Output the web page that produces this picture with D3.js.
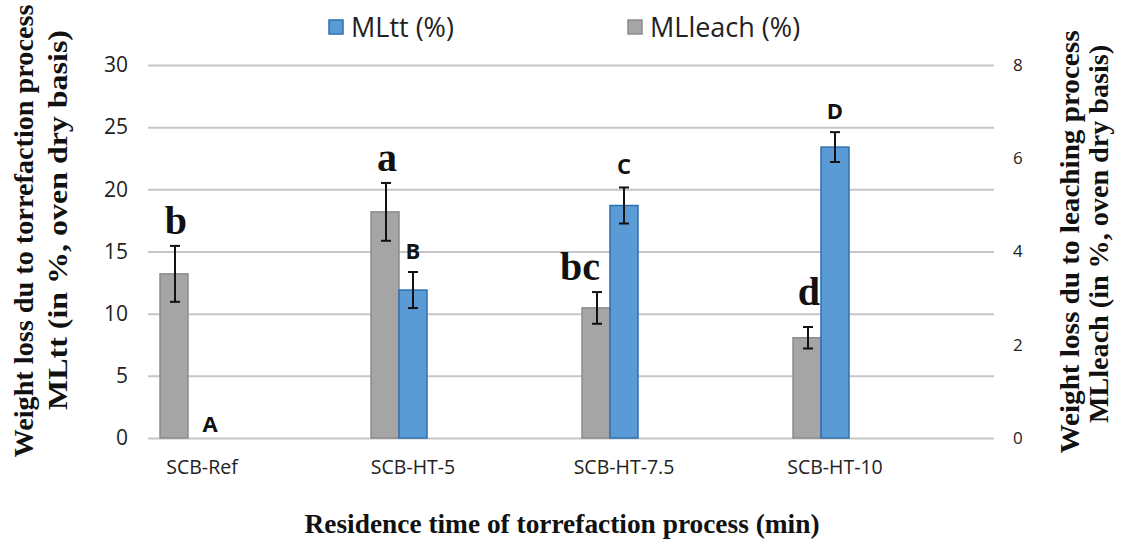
<!DOCTYPE html>
<html>
<head>
<meta charset="utf-8">
<script src="https://cdn.jsdelivr.net/npm/d3@7"></script>
<style>
  html, body { margin: 0; padding: 0; background: #fff; }
  svg { display: block; }
</style>
</head>
<body>
<svg id="chart" width="1125" height="551"></svg>
<script>
// ---- data ----
const categories = ["SCB-Ref", "SCB-HT-5", "SCB-HT-7.5", "SCB-HT-10"];
const seriesNames = ["MLleach (%)", "MLtt (%)"];
const mlLeach = [3.52, 4.85, 2.79, 2.15];      // right axis
const mlLeachErr = [0.60, 0.62, 0.34, 0.23];
const mlTt = [0, 11.9, 18.7, 23.4];            // left axis
const mlTtErr = [0, 1.45, 1.45, 1.2];
const leachLetters = ["b", "a", "bc", "d"];
const ttLetters = ["A", "B", "C", "D"];
const leftTicks = [0, 5, 10, 15, 20, 25, 30];
const rightTicks = [0, 2, 4, 6, 8];

const svg = d3.select("#chart");
const plot = { left: 148, right: 994, top: 65, bottom: 438 };

const yL = d3.scaleLinear().domain([0, 30]).range([plot.bottom, plot.top]);
const yR = d3.scaleLinear().domain([0, 8]).range([plot.bottom, plot.top]);
const x0 = d3.scaleBand().domain(categories).range([96.5, 940.5])
  .paddingInner(0.602).paddingOuter(0.301);
const xs = d3.scaleBand().domain(["leach", "tt", "empty"]).range([0, x0.bandwidth()]);

const tickFont = "'Open Sans', 'Liberation Sans', sans-serif";
const serif = "'Liberation Serif', 'DejaVu Serif', serif";

// gridlines via left axis
const gridAxis = d3.axisLeft(yL).tickValues(leftTicks)
  .tickSize(-(plot.right - plot.left)).tickFormat(d => d).tickPadding(20);
const gL = svg.append("g").attr("transform", `translate(${plot.left},0)`).call(gridAxis);
gL.select(".domain").remove();
gL.selectAll(".tick line").attr("stroke", "#c6c6c6").attr("stroke-width", 2);
gL.selectAll(".tick text").attr("font-family", tickFont).attr("font-size", 21).attr("fill", "#222");

// right axis labels
const rAxis = d3.axisRight(yR).tickValues(rightTicks).tickSize(0).tickPadding(19).tickFormat(d => d);
const gR = svg.append("g").attr("transform", `translate(${plot.right},0)`).call(rAxis);
gR.select(".domain").remove();
gR.selectAll(".tick text").attr("font-family", tickFont).attr("font-size", 17).attr("fill", "#222");

// category labels
const xAxis = d3.axisBottom(x0).tickSize(0).tickPadding(0);
const gX = svg.append("g").attr("transform", `translate(0,${plot.bottom + 22})`).call(xAxis);
gX.select(".domain").remove();
gX.selectAll(".tick text").attr("font-family", tickFont).attr("font-size", 19.5).attr("fill", "#222");

// bars
const rows = categories.map((c, i) => ({
  cat: c, leach: mlLeach[i], leachErr: mlLeachErr[i], tt: mlTt[i], ttErr: mlTtErr[i],
  lL: leachLetters[i], lT: ttLetters[i]
}));

const groups = svg.append("g").selectAll("g").data(rows).join("g")
  .attr("transform", d => `translate(${x0(d.cat)},0)`);

groups.append("rect")
  .attr("x", xs("leach")).attr("width", xs.bandwidth())
  .attr("y", d => yR(d.leach)).attr("height", d => yR(0) - yR(d.leach))
  .attr("fill", "#a5a5a5").attr("stroke", "#8c8c8c").attr("stroke-width", 1.5);

groups.filter(d => d.tt > 0).append("rect")
  .attr("x", xs("tt")).attr("width", xs.bandwidth())
  .attr("y", d => yL(d.tt)).attr("height", d => yL(0) - yL(d.tt))
  .attr("fill", "#5b9bd5").attr("stroke", "#2e6fae").attr("stroke-width", 1.5);

// error bars
function errBar(sel, cx, yTop, yBot) {
  sel.append("line").attr("x1", cx).attr("x2", cx).attr("y1", yTop).attr("y2", yBot)
    .attr("stroke", "#111").attr("stroke-width", 2);
  [yTop, yBot].forEach(yy => sel.append("line").attr("x1", cx - 5).attr("x2", cx + 5)
    .attr("y1", yy).attr("y2", yy).attr("stroke", "#111").attr("stroke-width", 2));
}
groups.each(function(d) {
  const g = d3.select(this);
  const cL = xs("leach") + xs.bandwidth() / 2;
  const cT = xs("tt") + xs.bandwidth() / 2;
  errBar(g, cL + 1, yR(d.leach + d.leachErr), yR(d.leach - d.leachErr));
  if (d.ttErr > 0) errBar(g, cT, yL(d.tt + d.ttErr), yL(d.tt - d.ttErr));
  // letters
  const lx = d.lL.length > 1 ? cL - 16 : cL + 2;
  const gapL = d.lL === "d" ? 22 : 12;
  g.append("text").attr("x", lx).attr("y", yR(d.leach + d.leachErr) - gapL)
    .attr("text-anchor", "middle").attr("font-family", serif).attr("font-weight", "bold")
    .attr("font-size", 40).attr("fill", "#111").text(d.lL);
  const gapT = d.ttErr > 0 ? 13 : 6;
  g.append("text").attr("x", d.ttErr > 0 ? cT : cT + 8).attr("y", yL(d.tt + d.ttErr) - gapT)
    .attr("text-anchor", "middle").attr("font-family", tickFont).attr("font-weight", "bold")
    .attr("font-size", 22).attr("fill", "#111").text(d.lT);
});

// legend
const legendItems = [
  { name: seriesNames[1], color: "#5b9bd5", stroke: "#2e6fae", x: 329 },
  { name: seriesNames[0], color: "#a5a5a5", stroke: "#8c8c8c", x: 628 }
];
const lg = svg.append("g").selectAll("g").data(legendItems).join("g")
  .attr("transform", d => `translate(${d.x},20)`);
lg.append("rect").attr("width", 14).attr("height", 14).attr("fill", d => d.color)
  .attr("stroke", d => d.stroke).attr("stroke-width", 1.5);
lg.append("text").attr("x", 22).attr("y", 17).attr("font-family", tickFont)
  .attr("font-size", 27).attr("fill", "#222").text(d => d.name);

// axis titles
function vTitle(x, y, txt, len) {
  svg.append("text").attr("transform", `translate(${x},${y}) rotate(-90)`)
    .attr("text-anchor", "middle").attr("font-family", serif).attr("font-weight", "bold")
    .attr("font-size", 27).attr("fill", "#111")
    .attr("textLength", len).attr("lengthAdjust", "spacingAndGlyphs").text(txt);
}
vTitle(33, 231, "Weight loss du to torrefaction process", 453);
vTitle(67, 220, "MLtt (in %, oven dry basis)", 380);
vTitle(1079, 242, "Weight loss du to leaching process", 423);
vTitle(1108, 234, "MLleach (in %, oven dry basis)", 378);

svg.append("text").attr("x", 562).attr("y", 533).attr("text-anchor", "middle")
  .attr("font-family", serif).attr("font-weight", "bold").attr("font-size", 27)
  .attr("textLength", 515).attr("lengthAdjust", "spacingAndGlyphs")
  .attr("fill", "#111").text("Residence time of torrefaction process (min)");
</script>
</body>
</html>
